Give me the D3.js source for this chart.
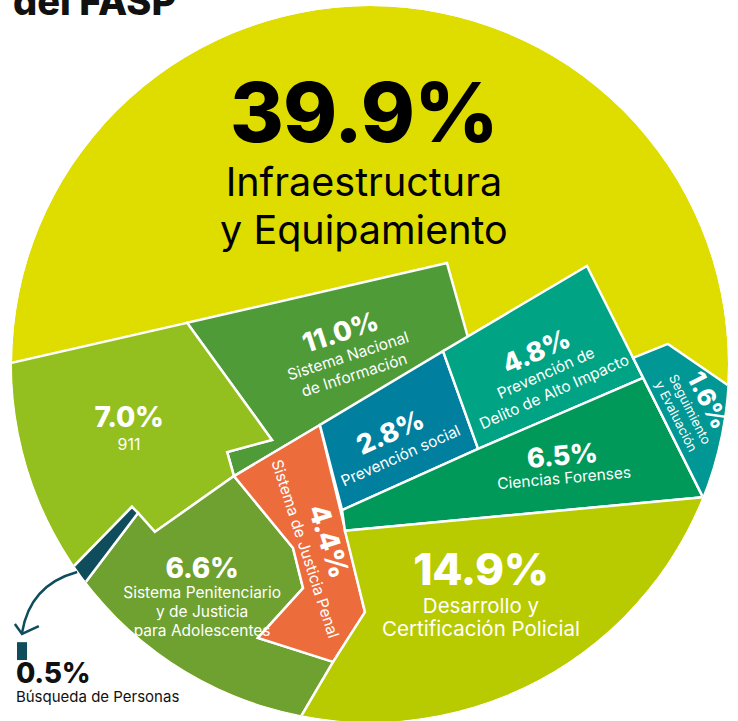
<!DOCTYPE html>
<html>
<head>
<meta charset="utf-8">
<script src="https://cdn.jsdelivr.net/npm/d3@7"></script>
<style>
  html, body { margin: 0; padding: 0; background: #fff; }
  svg { display: block; }
  text { font-family: Inter, "Noto Sans", sans-serif; }
</style>
</head>
<body>
<div id="chart"></div>
<script>
// Data: FASP budget shares by programme
const categories = [
  "Infraestructura y Equipamiento",
  "Sistema Nacional de Información",
  "911",
  "Sistema Penitenciario y de Justicia para Adolescentes",
  "Sistema de Justicia Penal",
  "Prevención social",
  "Prevención de Delito de Alto Impacto",
  "Ciencias Forenses",
  "Seguimiento y Evaluación",
  "Desarrollo y Certificación Policial",
  "Búsqueda de Personas"
];
const shares = [39.9, 11.0, 7.0, 6.6, 4.4, 2.8, 4.8, 6.5, 1.6, 14.9, 0.5];
const labelLines = [
  ["Infraestructura", "y Equipamiento"],
  ["Sistema Nacional", "de Información"],
  ["911"],
  ["Sistema Penitenciario", "y de Justicia", "para Adolescentes"],
  ["Sistema de Justicia Penal"],
  ["Prevención social"],
  ["Prevención de", "Delito de Alto Impacto"],
  ["Ciencias Forenses"],
  ["Seguimiento", "y Evaluación"],
  ["Desarrollo y", "Certificación Policial"],
  ["Búsqueda de Personas"]
];
const colors = ["#dfdc00", "#4f9b38", "#93c01f", "#6ea130", "#ed6c3c", "#00809e",
  "#00a383", "#00995a", "#009794", "#b8cb00", "#0f4c5c"];

// Layout: hand-drawn tiles of the "pie", in circle units (radius = 100, centre = 0,0)
const layout = [
  { shape: null, at: [-1.7, -62.0], rot: 0, num: 82, txt: 39.5, dy: 54, lh: 48, fill: "#000" },
  { shape: [[-51.1, -11.5], [21.5, -28.2], [27.4, -7.3], [-38.0, 31.3], [-39.9, 24.6], [-27.4, 21.2]],
    at: [-7.5, -6.4], rot: -18, num: 27, txt: 15.5, dy: 21, lh: 20 },
  { shape: [[-108.9, 1.7], [-51.1, -11.5], [-27.4, 21.2], [-39.9, 24.6], [-38.0, 31.3], [-60.1, 46.9],
      [-66.5, 39.9], [-92.2, 66.2], [-108.9, 66.2]],
    at: [-67.3, 17.6], rot: 0, num: 28, txt: 16, dy: 23, lh: 20 },
  { shape: [[-64.8, 41.6], [-60.1, 46.9], [-38.0, 31.3], [-21.5, 51.4], [-18.7, 62.6], [-31.3, 76.5],
      [-10.3, 83.2], [-19.0, 98.0], [-26.3, 110.6], [-92.2, 110.6], [-86.6, 70.4]],
    at: [-46.9, 59.8], rot: 0, num: 28, txt: 15.5, dy: 20, lh: 19 },
  { shape: [[-38.0, 31.3], [-14.0, 17.0], [-1.4, 69.3], [-10.3, 83.2], [-31.3, 76.5], [-18.7, 62.6], [-21.5, 51.4]],
    at: [-14.1, 50.3], rot: 72, num: 28, txt: 15.5, dy: 20.5, lh: 20 },
  { shape: [[-14.0, 17.0], [20.4, -3.6], [30.2, 23.7], [-7.8, 40.8]],
    at: [6.7, 21.5], rot: -24, num: 27, txt: 15.5, dy: 21.5, lh: 20 },
  { shape: [[20.4, -3.6], [60.6, -27.4], [76.3, 3.9], [30.2, 23.7]],
    at: [47.5, -1.1], rot: -24, num: 27, txt: 15.5, dy: 19.5, lh: 20.5 },
  { shape: [[-7.8, 40.8], [30.2, 23.7], [76.3, 3.9], [93.0, 37.2], [-7.0, 46.6]],
    at: [53.9, 28.2], rot: -5, num: 27, txt: 15.5, dy: 18.5, lh: 20 },
  { shape: [[73.5, -1.7], [83.2, -5.6], [111.7, 14.0], [111.7, 38.0], [93.0, 37.2]],
    at: [92.2, 11.2], rot: 63, num: 25, txt: 13, dy: 16, lh: 15.5 },
  { shape: [[-7.0, 46.6], [93.0, 37.2], [114.5, 35.2], [114.5, 110.6], [-26.3, 110.6], [-19.0, 98.0],
      [-10.3, 83.2], [-1.4, 69.3]],
    at: [31.0, 61.7], rot: 0, num: 44, txt: 20.5, dy: 28, lh: 23 },
  { shape: [[-66.5, 39.9], [-64.8, 41.6], [-86.6, 70.4], [-92.2, 66.2]],
    at: [-98.9, 89.1], rot: 0, num: 28, txt: 15, dy: 19, lh: 18, fill: "#111", anchor: "start" }
];

const width = 738;
const height = 721;
const cx = 370, cy = 364, R = 358;

const x = d3.scaleLinear().domain([-100, 100]).range([cx - R, cx + R]);
const y = d3.scaleLinear().domain([-100, 100]).range([cy - R, cy + R]);
const fmt = v => d3.format(".1f")(v) + "%";

const svg = d3.select("#chart").append("svg")
  .attr("width", width)
  .attr("height", height);

svg.append("defs").append("clipPath")
  .attr("id", "disc")
  .append("circle")
  .attr("cx", x(0))
  .attr("cy", y(0))
  .attr("r", x(100) - x(0));

const data = categories.map((c, i) => ({
  name: c, value: shares[i], lines: labelLines[i], color: colors[i], ...layout[i]
}));

const g = svg.append("g").attr("clip-path", "url(#disc)");

// base disc = biggest item
g.append("circle")
  .attr("cx", x(0))
  .attr("cy", y(0))
  .attr("r", x(100) - x(0))
  .attr("fill", data[0].color);

const line = d3.line().x(d => x(d[0])).y(d => y(d[1])).curve(d3.curveLinearClosed);

g.selectAll("path.tile")
  .data(data.filter(d => d.shape))
  .enter()
  .append("path")
  .attr("class", "tile")
  .attr("d", d => line(d.shape))
  .attr("fill", d => d.color)
  .attr("stroke", "#fff")
  .attr("stroke-width", 2.5)
  .attr("stroke-linejoin", "miter");

// labels
const labels = svg.selectAll("g.label")
  .data(data)
  .enter()
  .append("g")
  .attr("class", "label")
  .attr("transform", d => `translate(${x(d.at[0])},${y(d.at[1])}) rotate(${d.rot})`)
  .attr("text-anchor", d => d.anchor || "middle")
  .attr("fill", d => d.fill || "#fff");

labels.append("text")
  .attr("font-size", d => d.num)
  .attr("font-weight", 800)
  .attr("letter-spacing", "-0.01em")
  .text(d => fmt(d.value));

labels.each(function (d) {
  d3.select(this).selectAll("text.sub")
    .data(d.lines)
    .enter()
    .append("text")
    .attr("class", "sub")
    .attr("y", (t, i) => d.dy + i * d.lh)
    .attr("font-size", d.txt)
    .attr("font-weight", 400)
    .text(t => t);
});

// call-out for the tiny slice
const dark = colors[10];
svg.append("rect")
  .attr("x", x(-98.6))
  .attr("y", y(77.7))
  .attr("width", x(-95.8) - x(-98.6))
  .attr("height", y(82.7) - y(77.7))
  .attr("fill", dark);

svg.append("path")
  .attr("d", `M${x(-81.8)},${y(58.1)} Q${x(-95.0)},${y(61.7)} ${x(-97.2)},${y(75.1)}`)
  .attr("fill", "none")
  .attr("stroke", dark)
  .attr("stroke-width", 2.5);

svg.append("path")
  .attr("d", `M${x(-99.2)},${y(72.6)} L${x(-97.2)},${y(75.4)} L${x(-92.5)},${y(73.2)}`)
  .attr("fill", "none")
  .attr("stroke", dark)
  .attr("stroke-width", 2.5);

// title, cut by the top of the frame
svg.append("text")
  .attr("x", 13)
  .attr("y", 15)
  .attr("font-size", 38)
  .attr("font-weight", 800)
  .attr("fill", "#111")
  .text("del FASP");
</script>
</body>
</html>
